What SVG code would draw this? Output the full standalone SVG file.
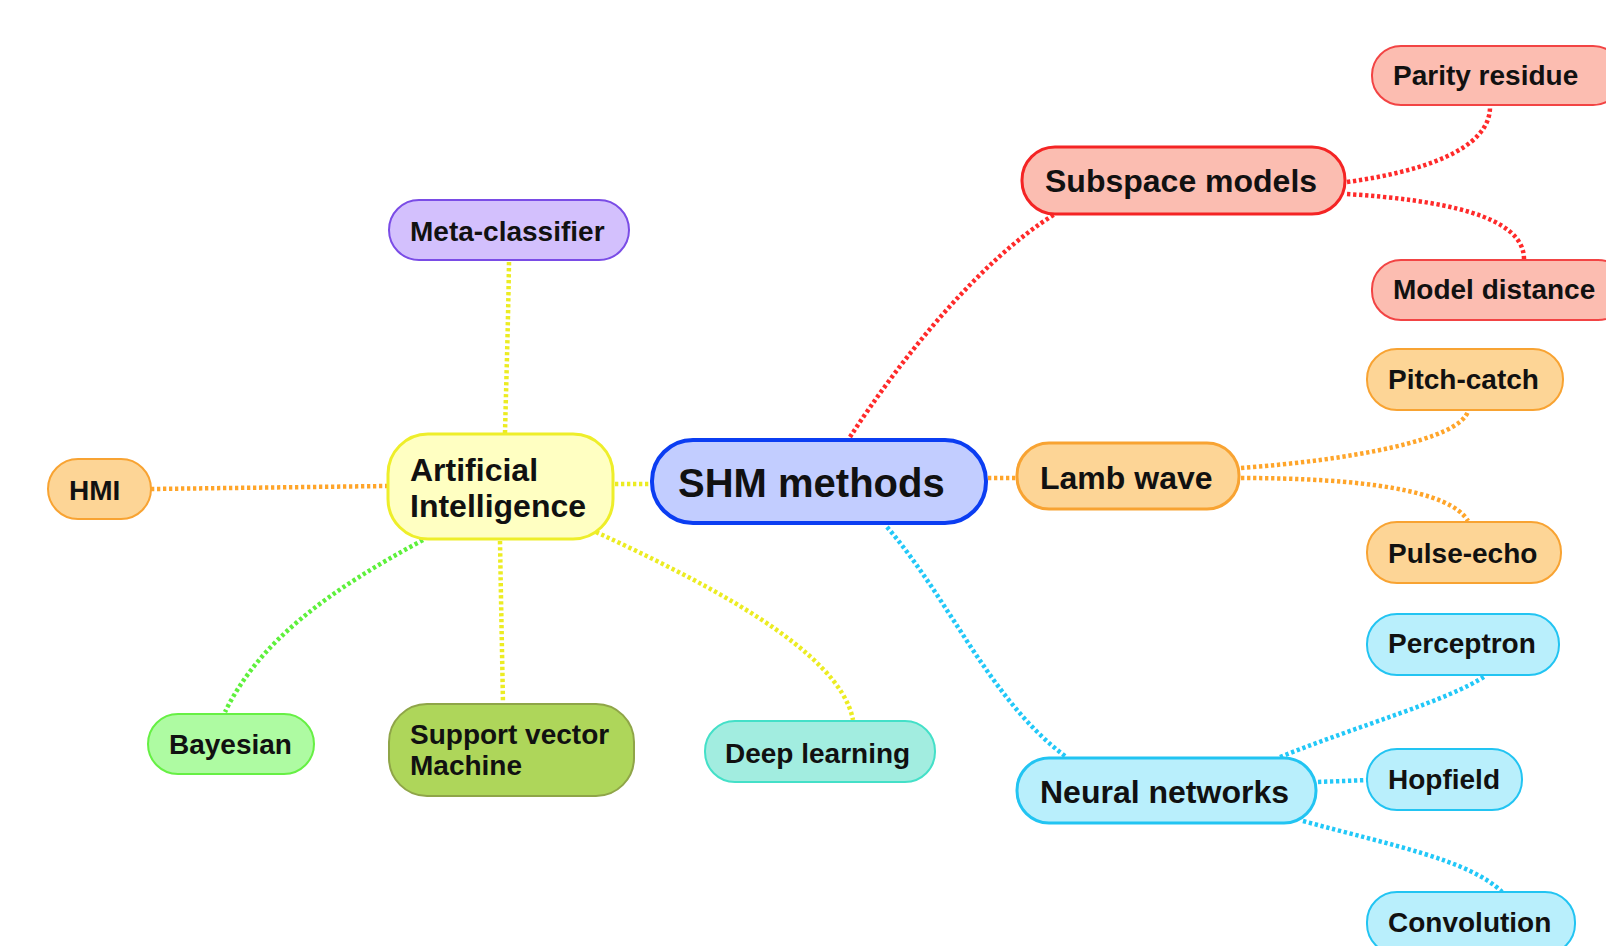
<svg xmlns="http://www.w3.org/2000/svg" width="1606" height="946" viewBox="0 0 1606 946">
<style>
text{font-family:"Liberation Sans",Arial,sans-serif;font-weight:bold;fill:#111}
.t40{font-size:40px}.t32{font-size:32px}.t28{font-size:28px}
.c{fill:none;stroke-width:4.5;stroke-dasharray:3.3 2.7}
.red{stroke:#ff2a2a}.org{stroke:#ffa52a}.blu{stroke:#22c8f8}.yel{stroke:#ecec22}.grn{stroke:#5ef03c}
.n{stroke-width:2}
.n1{stroke-width:3}
</style>
<rect width="1606" height="946" fill="#ffffff"/>
<g id="connectors">
<path class="c red" d="M850,437 C900,360 980,260 1055,214"/>
<path class="c red" d="M1347,182 C1420,172 1490,150 1490,107"/>
<path class="c red" d="M1347,194 C1440,200 1524,215 1524,259"/>
<path class="c org" d="M988,478 L1017,478"/>
<path class="c org" d="M1241,468 C1350,460 1460,440 1468,411"/>
<path class="c org" d="M1241,478 C1360,478 1450,490 1468,521"/>
<path class="c blu" d="M887,527 C950,600 990,700 1065,756"/>
<path class="c blu" d="M1280,757 C1360,725 1450,700 1485,676"/>
<path class="c blu" d="M1318,782 L1367,780"/>
<path class="c blu" d="M1303,821 C1390,845 1470,860 1502,892"/>
<path class="c yel" d="M615,484 L652,484"/>
<path class="c yel" d="M509,262 C508,330 506,390 505,433"/>
<path class="c org" d="M151,489 L387,486"/>
<path class="c grn" d="M423,540 C330,590 260,640 225,712"/>
<path class="c yel" d="M500,541 C501,600 502,650 503,704"/>
<path class="c yel" d="M596,532 C700,580 840,650 853,720"/>
</g>
<g id="root">
<rect x="652" y="440" width="334" height="83" rx="41" fill="#c2cdff" stroke="#0b3df2" stroke-width="4"/>
<text class="t40" x="678" y="497">SHM methods</text>
</g>
<g id="subspace">
<rect x="1022" y="147" width="323" height="67" rx="33" fill="#fbbdb1" stroke="#f42424" class="n1"/>
<text class="t32" x="1045" y="192">Subspace models</text>
</g>
<g id="parity">
<rect x="1372" y="46" width="250" height="59" rx="29" fill="#fcbdb1" stroke="#f24444" class="n"/>
<text class="t28" x="1393" y="85">Parity residue</text>
</g>
<g id="modeldist">
<rect x="1372" y="260" width="255" height="60" rx="29" fill="#fcbdb1" stroke="#f24444" class="n"/>
<text class="t28" x="1393" y="299">Model distance</text>
</g>
<g id="lamb">
<rect x="1017" y="443" width="222" height="66" rx="32" fill="#fdd596" stroke="#f8a332" class="n1"/>
<text class="t32" x="1040" y="489">Lamb wave</text>
</g>
<g id="pitch">
<rect x="1367" y="349" width="196" height="61" rx="30" fill="#fdd596" stroke="#f8a332" class="n"/>
<text class="t28" x="1388" y="389">Pitch-catch</text>
</g>
<g id="pulse">
<rect x="1367" y="522" width="194" height="61" rx="30" fill="#fdd596" stroke="#f8a332" class="n"/>
<text class="t28" x="1388" y="563">Pulse-echo</text>
</g>
<g id="neural">
<rect x="1017" y="758" width="299" height="65" rx="32" fill="#b9effc" stroke="#22c4f2" class="n1"/>
<text class="t32" x="1040" y="803">Neural networks</text>
</g>
<g id="perceptron">
<rect x="1367" y="614" width="192" height="61" rx="30" fill="#b9effc" stroke="#22c4f2" class="n"/>
<text class="t28" x="1388" y="653">Perceptron</text>
</g>
<g id="hopfield">
<rect x="1367" y="749" width="155" height="61" rx="30" fill="#b9effc" stroke="#22c4f2" class="n"/>
<text class="t28" x="1388" y="789">Hopfield</text>
</g>
<g id="convolution">
<rect x="1367" y="892" width="208" height="62" rx="30" fill="#b9effc" stroke="#22c4f2" class="n"/>
<text class="t28" x="1388" y="932">Convolution</text>
</g>
<g id="ai">
<rect x="388" y="434" width="225" height="105" rx="40" fill="#ffffc2" stroke="#eeee2a" class="n1"/>
<text class="t32" x="410" y="481">Artificial</text>
<text class="t32" x="410" y="517">Intelligence</text>
</g>
<g id="meta">
<rect x="389" y="200" width="240" height="60" rx="30" fill="#d3c0fd" stroke="#7a4ce6" class="n"/>
<text class="t28" x="410" y="241">Meta-classifier</text>
</g>
<g id="hmi">
<rect x="48" y="459" width="103" height="60" rx="30" fill="#fdd596" stroke="#f8a332" class="n"/>
<text class="t28" x="69" y="500">HMI</text>
</g>
<g id="bayesian">
<rect x="148" y="714" width="166" height="60" rx="30" fill="#aefba2" stroke="#66f044" class="n"/>
<text class="t28" x="169" y="754">Bayesian</text>
</g>
<g id="svm">
<rect x="389" y="704" width="245" height="92" rx="38" fill="#aed65a" stroke="#8fa548" class="n"/>
<text class="t28" x="410" y="744">Support vector</text>
<text class="t28" x="410" y="775">Machine</text>
</g>
<g id="deep">
<rect x="705" y="721" width="230" height="61" rx="30" fill="#a2ede0" stroke="#44e0c8" class="n"/>
<text class="t28" x="725" y="763">Deep learning</text>
</g>
</svg>
